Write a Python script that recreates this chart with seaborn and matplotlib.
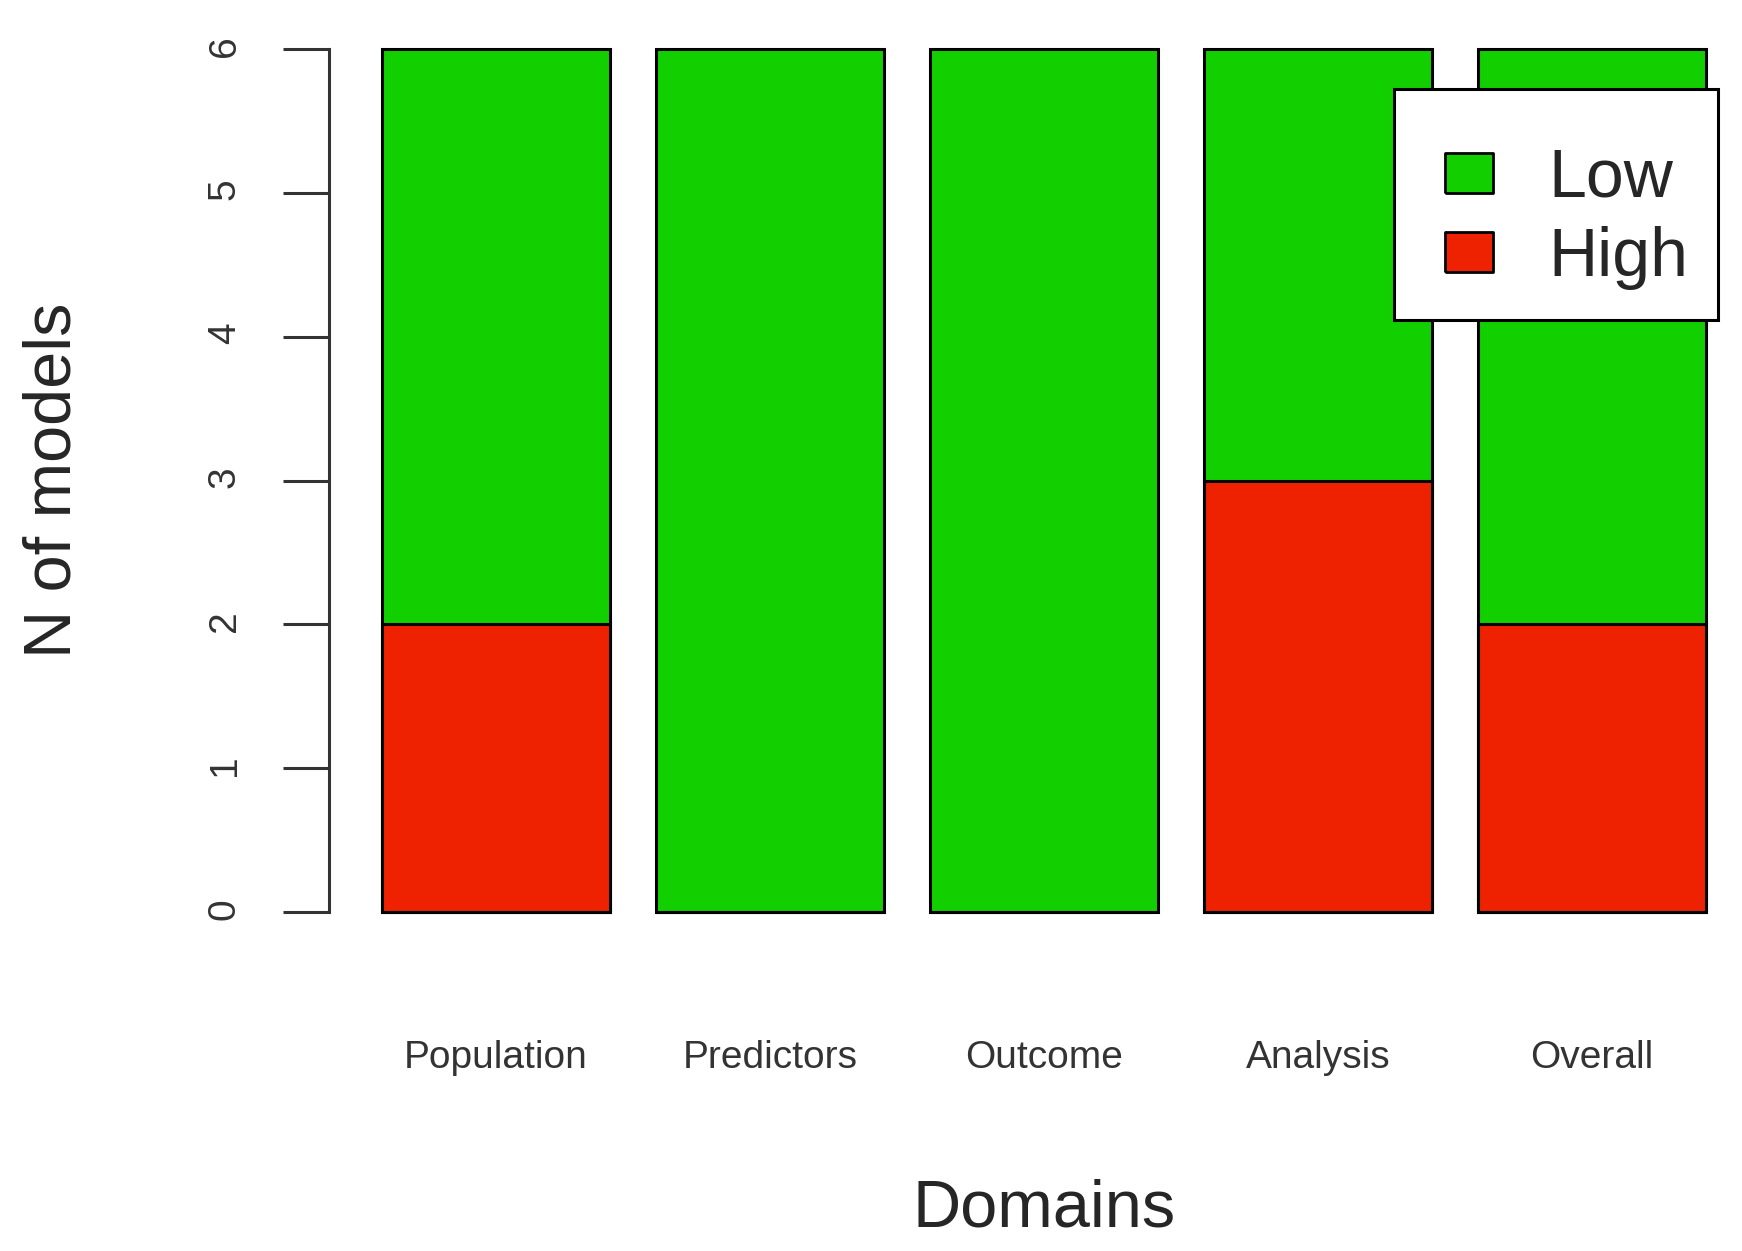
import numpy as np
import pandas as pd
import seaborn as sns
import matplotlib.pyplot as plt
from matplotlib.lines import Line2D

# Data
domains = ['Population', 'Predictors', 'Outcome', 'Analysis', 'Overall']
low_risk = [4, 6, 6, 3, 4]
high_risk = [2, 0, 0, 3, 2]

green = '#12CF00'
red = '#EE2200'

sns.set_style('white')
plt.rcParams['font.family'] = ['Liberation Sans', 'DejaVu Sans']

df = pd.DataFrame({
    'Domain': domains,
    'Low': low_risk,
    'High': high_risk,
})
df['Total'] = df['Low'] + df['High']

fig = plt.figure(figsize=(17.42, 12.51), dpi=100)
ax = fig.add_axes([0.1889, 0.2434, 0.8209, 0.745])

# stacked bars: full height in green, high part drawn on top in red
sns.barplot(data=df, x='Domain', y='Total', color=green, saturation=1,
            width=0.833, edgecolor='black', linewidth=2.2, ax=ax)
sns.barplot(data=df, x='Domain', y='High', color=red, saturation=1,
            width=0.833, edgecolor='black', linewidth=2.2, ax=ax)

ax.set_xlim(-0.6095, 4.6095)
ax.set_ylim(-0.24, 6.24)
ax.set_yticks(range(7))

for side in ['top', 'right', 'bottom']:
    ax.spines[side].set_visible(False)
ax.spines['left'].set_bounds(0, 6)
ax.spines['left'].set_linewidth(2.2)
ax.spines['left'].set_color('#333333')

ax.tick_params(axis='y', left=True, length=33, width=2.2, color='#333333',
               pad=29, labelsize=28, labelrotation=90, labelcolor='#333333')
ax.tick_params(axis='x', bottom=False, length=0, pad=67, labelsize=28,
               labelcolor='#333333')

ax.set_xlabel('Domains', fontsize=48, labelpad=74)
ax.set_ylabel('N of models', fontsize=48, labelpad=88)

box = [(-1, -0.84), (1, -0.84), (1, 0.84), (-1, 0.84), (-1, -0.84)]
handles = [
    Line2D([0], [0], marker=box, markersize=35, markerfacecolor=green,
           markeredgecolor='black', markeredgewidth=2, linestyle='none'),
    Line2D([0], [0], marker=box, markersize=35, markerfacecolor=red,
           markeredgecolor='black', markeredgewidth=2, linestyle='none'),
]
leg = ax.legend(handles, ['Low', 'High'], loc='upper right',
                bbox_to_anchor=(1718 / 1742, 1 - 89 / 1251),
                bbox_transform=fig.transFigure, borderaxespad=0,
                fontsize=49, fancybox=False, framealpha=1, edgecolor='black',
                borderpad=0.44, handlelength=1.33, handletextpad=0.5,
                labelspacing=0.23, title=' ', title_fontsize=9)
leg.get_frame().set_linewidth(2.2)

fig.savefig('out.png', dpi=100)
